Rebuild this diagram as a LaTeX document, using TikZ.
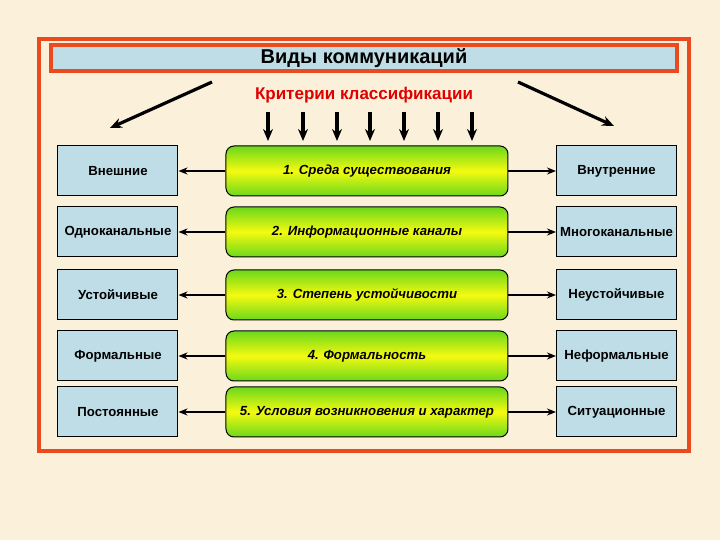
\documentclass[tikz,border=0pt]{standalone}
\usepackage{fontspec}
\setmainfont{Liberation Sans}
\usetikzlibrary{arrows.meta}
\definecolor{bg}{HTML}{FBF1DA}
\definecolor{fr}{HTML}{EA4A1E}
\definecolor{lb}{HTML}{BEDDE6}
\definecolor{gr}{HTML}{6CD81C}
\definecolor{yl}{HTML}{F4FA10}
\tikzset{
 side/.style={draw=black,line width=0.5pt,fill=lb,minimum width=60pt,minimum height=25pt,inner sep=0pt,font=\fontsize{6.6}{7}\selectfont\bfseries},
 crit/.style={draw=black,line width=0.5pt,rounded corners=4pt,top color=gr,bottom color=gr,middle color=yl,minimum width=141pt,minimum height=25pt,inner sep=0pt,font=\fontsize{6.6}{7}\selectfont\bfseries\itshape},
 conn/.style={line width=0.9pt,-{Stealth[length=4.5pt,width=3.5pt]}},
 big/.style={line width=1.6pt,-{Stealth[length=6pt,width=5pt]}}
}
\begin{document}
\begin{tikzpicture}[x=0.5pt,y=-0.5pt]
\fill[bg] (0,0) rectangle (720,540);
\useasboundingbox (0,0) rectangle (720,540);
\draw[fr,line width=2pt] (39,39) rectangle (689,451);
\node[draw=fr,line width=2pt,fill=lb,minimum width=313pt,minimum height=13pt,inner sep=0pt,font=\fontsize{10}{12}\selectfont\bfseries] (title) at (364,58) {Виды коммуникаций};
\node[text={rgb,255:red,224;green,0;blue,0},font=\fontsize{8.5}{10}\selectfont\bfseries] (sub) at (364,95) {Критерии классификации};
\coordinate (la) at (212,82); \coordinate (lb) at (110,128);
\coordinate (ra) at (518,82); \coordinate (rb) at (614,126);
\draw[big] (la) -- (lb);
\draw[big] (ra) -- (rb);
\foreach \x [count=\i] in {268,303,337,370,404,438,472}{
 \coordinate (d\i a) at (\x,112); \coordinate (d\i b) at (\x,141);
 \draw[big] (d\i a) -- (d\i b);
}
\foreach \y/\l/\c/\r [count=\i] in {
 171/Внешние/{1. Среда существования}/Внутренние,
 232/Одноканальные/{2. Информационные каналы}/Многоканальные,
 295/Устойчивые/{3. Степень устойчивости}/Неустойчивые,
 356/Формальные/{4. Формальность}/Неформальные,
 412/Постоянные/{5. Условия возникновения и характер}/Ситуационные}{
 \node[side] (L\i) at (118,\y) {\l};
 \node[crit] (C\i) at (367,\y) {\c};
 \node[side] (R\i) at (616.5,\y) {\r};
 \draw[conn] (C\i) -- (L\i);
 \draw[conn] (C\i) -- (R\i);
}
\end{tikzpicture}
\end{document}
